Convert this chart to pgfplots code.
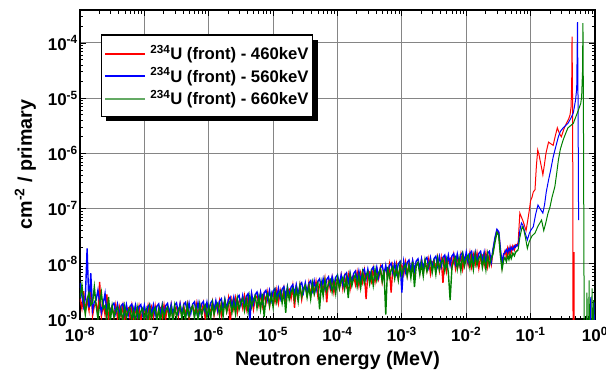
\documentclass[border=0pt]{standalone}
\usepackage{fontspec}
\setmainfont{Liberation Sans}
\usepackage{xcolor}
\usepackage{pgfplots}
\pgfplotsset{compat=1.18}
\usepackage{pgfplotstable}
\definecolor{dgreen}{RGB}{0,128,0}
\definecolor{lgreen}{RGB}{100,170,100}
\definecolor{pred}{RGB}{255,0,0}
\definecolor{pblue}{RGB}{0,0,255}
\newcommand{\legline}[1]{\textcolor{#1}{\rule[0.3em]{40pt}{1.6pt}}\hspace{5pt}}

\pgfplotstableread{
x r b g
1.00e-8 2.36e-9 4.5e-9 2.4e-9
1.07e-8 1.56e-9 2.63e-9 4.1e-9
1.14e-8 3.2e-9 1.67e-9 2.13e-9
1.21e-8 1.39e-9 2.37e-9 1.22e-9
1.29e-8 2.2e-9 1.9e-8 2.25e-9
1.38e-8 1.44e-9 1.61e-9 3.0e-9
1.47e-8 4.0e-9 6.8e-9 1.79e-9
1.57e-8 1.16e-9 1.45e-9 1.98e-9
1.67e-8 1.76e-9 2.05e-9 3.8e-9
1.78e-8 1.86e-9 2.21e-9 1.77e-9
1.90e-8 1.24e-9 3.3e-9 1.02e-9
2.02e-8 4.7e-9 2.05e-9 1.9e-9
2.15e-8 1.13e-9 1.32e-9 3.0e-9
2.29e-8 1.81e-9 1.89e-9 1.55e-9
2.45e-8 1.2e-9 2.9e-9 1.75e-9
2.61e-8 2.8e-9 1.32e-9 1.04e-9
2.78e-8 0.99e-9 1.92e-9 2.5e-9
2.96e-8 1.54e-9 1.23e-9 0.92e-9
3.16e-8 1.63e-9 1.77e-9 1.73e-9
3.37e-8 1.1e-9 1.93e-9 1.08e-9
3.59e-8 1.78e-9 1.26e-9 1.44e-9
3.83e-8 1.03e-9 1.85e-9 1.64e-9
4.08e-8 1.66e-9 1.2e-9 0.98e-9
4.35e-8 1.12e-9 1.74e-9 1.52e-9
4.64e-8 1.73e-9 1.89e-9 0.89e-9
4.95e-8 0.95e-9 1.24e-9 1.69e-9
5.27e-8 1.47e-9 1.81e-9 1.05e-9
5.62e-8 1.58e-9 1.18e-9 1.41e-9
5.99e-8 1.06e-9 1.7e-9 1.6e-9
6.38e-8 1.73e-9 1.86e-9 0.96e-9
6.81e-8 0.99e-9 1.21e-9 1.48e-9
7.26e-8 1.61e-9 1.78e-9 0.87e-9
7.74e-8 1.07e-9 1.15e-9 1.64e-9
8.25e-8 1.68e-9 1.68e-9 1.02e-9
8.80e-8 0.91e-9 1.82e-9 1.37e-9
9.38e-8 1.43e-9 1.2e-9 1.56e-9
1.00e-7 1.53e-9 1.76e-9 0.94e-9
1.07e-7 1.05e-9 1.15e-9 1.47e-9
1.14e-7 1.70e-9 1.68e-9 0.86e-9
1.21e-7 0.99e-9 1.85e-9 1.65e-9
1.29e-7 1.61e-9 1.21e-9 1.03e-9
1.38e-7 1.09e-9 1.80e-9 1.40e-9
1.47e-7 1.70e-9 1.17e-9 1.60e-9
1.57e-7 0.94e-9 1.72e-9 0.96e-9
1.67e-7 1.47e-9 1.88e-9 1.50e-9
1.78e-7 1.59e-9 1.24e-9 0.89e-9
1.90e-7 1.09e-9 1.84e-9 1.70e-9
2.02e-7 1.77e-9 1.20e-9 1.06e-9
2.15e-7 1.03e-9 1.75e-9 1.44e-9
2.29e-7 1.67e-9 1.92e-9 1.64e-9
2.45e-7 1.13e-9 1.27e-9 0.99e-9
2.61e-7 1.77e-9 1.86e-9 1.55e-9
2.78e-7 0.97e-9 1.22e-9 0.92e-9
2.96e-7 1.53e-9 1.78e-9 1.74e-9
3.16e-7 1.65e-9 1.96e-9 1.09e-9
3.37e-7 1.13e-9 1.30e-9 1.48e-9
3.59e-7 1.83e-9 1.90e-9 1.69e-9
3.83e-7 1.07e-9 1.25e-9 1.02e-9
4.08e-7 1.73e-9 1.82e-9 1.59e-9
4.35e-7 1.17e-9 2.00e-9 0.94e-9
4.64e-7 1.83e-9 1.32e-9 1.79e-9
4.95e-7 1.01e-9 1.94e-9 1.12e-9
5.27e-7 1.58e-9 1.27e-9 1.51e-9
5.62e-7 1.71e-9 1.86e-9 1.74e-9
5.99e-7 1.17e-9 2.04e-9 1.05e-9
6.38e-7 1.90e-9 1.34e-9 1.64e-9
6.81e-7 1.10e-9 1.98e-9 0.97e-9
7.26e-7 1.79e-9 1.29e-9 1.84e-9
7.74e-7 1.21e-9 1.89e-9 1.15e-9
8.25e-7 1.89e-9 2.07e-9 1.55e-9
8.80e-7 1.04e-9 1.37e-9 1.79e-9
9.38e-7 1.64e-9 2.01e-9 1.07e-9
1.00e-6 1.77e-9 1.32e-9 1.68e-9
1.07e-6 1.22e-9 1.95e-9 1.00e-9
1.14e-6 2.00e-9 2.16e-9 1.93e-9
1.21e-6 1.18e-9 1.44e-9 1.22e-9
1.29e-6 1.94e-9 2.15e-9 1.67e-9
1.38e-6 1.32e-9 1.42e-9 1.93e-9
1.47e-6 2.09e-9 2.09e-9 1.17e-9
1.57e-6 1.16e-9 2.32e-9 1.86e-9
1.67e-6 1.85e-9 1.55e-9 1.11e-9
1.78e-6 2.01e-9 2.30e-9 2.13e-9
1.90e-6 1.38e-9 1.52e-9 1.35e-9
2.02e-6 2.28e-9 2.24e-9 1.84e-9
2.15e-6 0.80e-9 2.49e-9 2.14e-9
2.29e-6 2.20e-9 1.66e-9 1.30e-9
2.45e-6 1.50e-9 2.47e-9 2.05e-9
2.61e-6 2.37e-9 1.63e-9 1.22e-9
2.78e-6 1.32e-9 2.41e-9 2.35e-9
2.96e-6 2.10e-9 2.67e-9 1.49e-9
3.16e-6 2.29e-9 1.78e-9 2.04e-9
3.37e-6 1.57e-9 2.65e-9 2.35e-9
3.59e-6 2.59e-9 1.75e-9 1.43e-9
3.83e-6 1.52e-9 2.59e-9 2.26e-9
4.08e-6 2.50e-9 2.87e-9 1.35e-9
4.35e-6 1.71e-9 0.90e-9 2.60e-9
4.64e-6 2.70e-9 2.85e-9 1.65e-9
4.95e-6 1.50e-9 1.88e-9 2.25e-9
5.27e-6 2.39e-9 2.78e-9 2.60e-9
5.62e-6 2.60e-9 3.08e-9 1.58e-9
5.99e-6 1.78e-9 2.05e-9 2.50e-9
6.38e-6 2.94e-9 3.05e-9 1.49e-9
6.81e-6 1.73e-9 2.02e-9 2.88e-9
7.26e-6 2.84e-9 2.98e-9 1.10e-9
7.74e-6 1.94e-9 3.30e-9 2.48e-9
8.25e-6 3.07e-9 2.21e-9 2.88e-9
8.80e-6 1.70e-9 3.28e-9 1.75e-9
9.38e-6 2.72e-9 2.17e-9 2.77e-9
1.00e-5 2.95e-9 3.20e-9 1.65e-9
1.07e-5 2.03e-9 3.56e-9 3.18e-9
1.14e-5 3.35e-9 2.37e-9 2.01e-9
1.21e-5 1.97e-9 3.55e-9 2.76e-9
1.29e-5 3.26e-9 2.35e-9 3.20e-9
1.38e-5 2.22e-9 3.47e-9 1.95e-9
1.47e-5 3.53e-9 3.86e-9 3.09e-9
1.57e-5 1.96e-9 2.58e-9 1.30e-9
1.67e-5 3.14e-9 3.85e-9 3.56e-9
1.78e-5 3.42e-9 2.55e-9 2.26e-9
1.90e-5 2.36e-9 3.78e-9 3.10e-9
2.02e-5 3.89e-9 4.19e-9 3.59e-9
2.15e-5 1.60e-9 2.80e-9 2.19e-9
2.29e-5 3.77e-9 4.17e-9 3.46e-9
2.45e-5 2.57e-9 2.76e-9 2.07e-9
2.61e-5 4.10e-9 4.10e-9 4.00e-9
2.78e-5 2.28e-9 4.55e-9 2.54e-9
2.96e-5 3.63e-9 3.04e-9 3.47e-9
3.16e-5 3.95e-9 4.52e-9 4.02e-9
3.37e-5 2.73e-9 3.00e-9 2.46e-9
3.59e-5 4.51e-9 4.44e-9 3.89e-9
3.83e-5 2.64e-9 4.93e-9 2.32e-9
4.08e-5 4.37e-9 3.29e-9 4.48e-9
4.35e-5 2.98e-9 4.91e-9 2.84e-9
4.64e-5 4.74e-9 3.26e-9 3.89e-9
4.95e-5 2.63e-9 4.81e-9 4.51e-9
5.27e-5 4.20e-9 5.35e-9 1.50e-9
5.62e-5 4.59e-9 3.58e-9 4.36e-9
5.99e-5 3.16e-9 5.33e-9 2.61e-9
6.38e-5 5.23e-9 3.54e-9 5.03e-9
6.81e-5 2.00e-9 5.22e-9 3.18e-9
7.26e-5 5.06e-9 5.81e-9 4.36e-9
7.74e-5 3.46e-9 3.88e-9 5.06e-9
8.25e-5 5.49e-9 5.79e-9 3.09e-9
8.80e-5 3.05e-9 3.84e-9 4.88e-9
9.38e-5 4.87e-9 5.67e-9 2.92e-9
1.00e-4 5.31e-9 6.30e-9 5.63e-9
1.07e-4 3.66e-9 4.20e-9 3.56e-9
1.14e-4 6.05e-9 6.28e-9 4.88e-9
1.21e-4 3.54e-9 4.15e-9 5.66e-9
1.29e-4 5.86e-9 6.14e-9 3.46e-9
1.38e-4 4.00e-9 6.83e-9 5.47e-9
1.47e-4 6.35e-9 4.56e-9 2.40e-9
1.57e-4 3.53e-9 6.80e-9 6.30e-9
1.67e-4 5.63e-9 4.51e-9 3.99e-9
1.78e-4 6.14e-9 6.66e-9 5.46e-9
1.90e-4 4.22e-9 7.39e-9 6.34e-9
2.02e-4 6.98e-9 4.94e-9 3.87e-9
2.15e-4 4.10e-9 7.37e-9 6.12e-9
2.29e-4 6.76e-9 4.88e-9 3.66e-9
2.45e-4 4.62e-9 7.21e-9 7.04e-9
2.61e-4 7.33e-9 8.02e-9 4.47e-9
2.78e-4 2.30e-9 5.35e-9 6.11e-9
2.96e-4 6.50e-9 7.98e-9 7.09e-9
3.16e-4 7.09e-9 5.29e-9 4.33e-9
3.37e-4 4.88e-9 7.81e-9 6.83e-9
3.59e-4 8.06e-9 8.68e-9 4.09e-9
3.83e-4 4.73e-9 5.80e-9 7.88e-9
4.08e-4 7.81e-9 8.64e-9 4.99e-9
4.35e-4 5.34e-9 5.73e-9 6.84e-9
4.64e-4 8.46e-9 8.46e-9 7.93e-9
4.95e-4 4.70e-9 9.41e-9 4.84e-9
5.27e-4 7.51e-9 6.28e-9 7.65e-9
5.62e-4 8.19e-9 9.37e-9 1.20e-9
5.99e-4 5.64e-9 6.20e-9 8.81e-9
6.38e-4 9.32e-9 9.18e-9 5.59e-9
6.81e-4 3.00e-9 10.2e-9 7.64e-9
7.26e-4 9.03e-9 6.81e-9 8.88e-9
7.74e-4 6.17e-9 10.2e-9 5.41e-9
8.25e-4 9.78e-9 6.72e-9 8.56e-9
8.80e-4 5.44e-9 9.95e-9 5.13e-9
9.38e-4 8.68e-9 11.0e-9 9.86e-9
1.00e-3 9.44e-9 3.00e-9 6.24e-9
1.07e-3 6.47e-9 10.9e-9 8.49e-9
1.14e-3 10.6e-9 7.19e-9 9.80e-9
1.21e-3 6.20e-9 10.6e-9 5.95e-9
1.29e-3 10.2e-9 11.7e-9 9.35e-9
1.38e-3 6.92e-9 7.76e-9 5.57e-9
1.47e-3 10.9e-9 11.5e-9 10.7e-9
1.57e-3 6.03e-9 7.59e-9 3.80e-9
1.67e-3 9.59e-9 11.2e-9 9.16e-9
1.78e-3 10.4e-9 12.3e-9 10.6e-9
1.90e-3 7.13e-9 8.20e-9 6.42e-9
2.02e-3 11.7e-9 12.2e-9 10.1e-9
2.15e-3 6.83e-9 8.01e-9 6.01e-9
2.29e-3 11.2e-9 11.8e-9 11.5e-9
2.45e-3 7.63e-9 13.0e-9 7.25e-9
2.61e-3 12.0e-9 8.65e-9 9.87e-9
2.78e-3 6.65e-9 12.8e-9 11.4e-9
2.96e-3 10.6e-9 8.45e-9 6.91e-9
3.16e-3 11.5e-9 12.4e-9 10.9e-9
3.37e-3 7.85e-9 13.7e-9 6.47e-9
3.59e-3 12.9e-9 9.13e-9 12.4e-9
3.83e-3 7.50e-9 13.5e-9 7.80e-9
4.08e-3 12.3e-9 8.89e-9 10.6e-9
4.35e-3 4.50e-9 13.1e-9 12.2e-9
4.64e-3 13.2e-9 14.4e-9 7.42e-9
4.95e-3 7.35e-9 9.66e-9 11.8e-9
5.27e-3 11.7e-9 14.3e-9 7.00e-9
5.62e-3 12.6e-9 9.42e-9 2.20e-9
5.99e-3 8.64e-9 13.8e-9 8.42e-9
6.38e-3 14.2e-9 15.3e-9 11.4e-9
6.81e-3 8.25e-9 10.1e-9 13.2e-9
7.26e-3 13.5e-9 15.0e-9 7.99e-9
7.74e-3 9.27e-9 9.94e-9 12.7e-9
8.25e-3 14.6e-9 14.6e-9 7.52e-9
8.80e-3 8.05e-9 16.1e-9 14.4e-9
9.38e-3 12.8e-9 10.7e-9 9.05e-9
1.00e-2 14.2e-9 16.2e-9 12.6e-9
1.07e-2 9.6e-9 10.6e-9 14.4e-9
1.14e-2 15.6e-9 15.4e-9 8.6e-9
1.21e-2 9.0e-9 16.8e-9 13.4e-9
1.29e-2 14.6e-9 11.0e-9 7.9e-9
1.38e-2 9.8e-9 16.2e-9 15.0e-9
1.47e-2 15.4e-9 10.6e-9 9.4e-9
1.57e-2 8.4e-9 15.4e-9 12.6e-9
1.67e-2 13.2e-9 16.8e-9 14.4e-9
1.78e-2 14.2e-9 11.0e-9 8.6e-9
1.90e-2 9.6e-9 16.2e-9 13.4e-9
2.02e-2 15.6e-9 10.6e-9 7.9e-9
2.15e-2 9.0e-9 15.4e-9 15.0e-9
2.29e-2 14.6e-9 16.8e-9 9.4e-9
2.45e-2 9.8e-9 11.0e-9 12.6e-9
2.6e-2 1.7e-8 1.8e-8 1.5e-8
2.8e-2 2.8e-8 3.0e-8 2.5e-8
3.0e-2 4.0e-8 4.2e-8 3.7e-8
3.2e-2 3.6e-8 3.8e-8 3.3e-8
3.4e-2 1.6e-8 1.8e-8 1.4e-8
3.6e-2 0.9e-8 1.0e-8 0.8e-8
3.8e-2 1.4e-8 1.5e-8 1.15e-8
4.0e-2 1.7e-8 1.6e-8 1.3e-8
4.2e-2 1.4e-8 1.8e-8 1.1e-8
4.4e-2 1.9e-8 1.6e-8 1.4e-8
4.6e-2 1.5e-8 1.9e-8 1.2e-8
4.8e-2 2.0e-8 1.7e-8 1.5e-8
5.0e-2 1.6e-8 2.0e-8 1.25e-8
5.3e-2 2.1e-8 1.8e-8 1.55e-8
5.6e-2 1.8e-8 2.1e-8 1.4e-8
5.8e-2 2.2e-8 2.0e-8 1.6e-8
6.1e-2 2.1e-8 2.2e-8 1.7e-8
6.4e-2 2.4e-8 2.1e-8 1.8e-8
}\lowdata

\pgfplotstableread{
x y
6.4e-2 2.4e-8
6.8e-2 8.3e-8
7.2e-2 7.0e-8
7.6e-2 6.0e-8
8.0e-2 5.0e-8
8.5e-2 4.0e-8
9.0e-2 6.0e-8
9.5e-2 9.0e-8
0.100 1.4e-7
0.105 1.6e-7
0.110 2.0e-7
0.117 2.2e-7
0.123 6.0e-7
0.129 1.15e-6
0.135 9.5e-7
0.140 7.6e-7
0.148 5.5e-7
0.155 4.1e-7
0.163 6.0e-7
0.173 1.0e-6
0.182 1.3e-6
0.190 1.6e-6
0.205 1.5e-6
0.224 1.4e-6
0.240 2.0e-6
0.260 2.9e-6
0.280 2.3e-6
0.300 2.0e-6
0.330 2.8e-6
0.360 3.5e-6
0.390 4.2e-6
0.410 5.0e-6
0.425 7.0e-6
0.435 2.0e-5
0.440 1.3e-4
0.450 5.0e-6
0.456 5e-10
0.466 5e-10
0.468 1.6e-8
0.472 1.6e-8
0.474 5e-10
}\redhi

\pgfplotstableread{
x y
6.4e-2 2.1e-8
6.8e-2 4.0e-8
7.2e-2 5.5e-8
7.6e-2 5.0e-8
8.0e-2 4.0e-8
8.5e-2 3.2e-8
8.9e-2 2.7e-8
9.5e-2 3.5e-8
0.100 4.0e-8
0.110 4.7e-8
0.120 8.0e-8
0.130 1.16e-7
0.140 1.0e-7
0.155 8.3e-8
0.165 1.2e-7
0.175 2.0e-7
0.190 3.3e-7
0.205 5.0e-7
0.224 8.6e-7
0.245 1.3e-6
0.270 2.0e-6
0.290 2.5e-6
0.320 2.9e-6
0.350 3.2e-6
0.380 3.5e-6
0.420 4.3e-6
0.460 5.4e-6
0.500 9.4e-6
0.520 1.5e-5
0.535 2.4e-4
0.545 1.0e-5
0.556 6.2e-8
0.557 nan
0.84 5e-10
0.86 2.5e-9
0.87 5e-10
0.96 5e-10
0.97 2.0e-9
0.98 5e-10
}\bluehi

\pgfplotstableread{
x y
6.4e-2 1.8e-8
6.8e-2 3.0e-8
7.4e-2 4.7e-8
7.8e-2 4.2e-8
8.3e-2 3.0e-8
8.9e-2 1.9e-8
9.5e-2 2.5e-8
0.105 3.2e-8
0.117 3.6e-8
0.130 4.8e-8
0.148 6.2e-8
0.160 4.0e-8
0.172 5.5e-8
0.185 8.0e-8
0.200 1.07e-7
0.215 1.6e-7
0.238 2.5e-7
0.255 4.5e-7
0.270 7.6e-7
0.290 1.2e-6
0.320 1.75e-6
0.350 2.3e-6
0.380 2.9e-6
0.420 3.2e-6
0.460 3.5e-6
0.500 4.5e-6
0.550 6.0e-6
0.600 8.0e-6
0.620 1.05e-5
0.640 3.0e-5
0.650 2.3e-4
0.660 1.0e-5
0.680 5e-10
0.740 5e-10
0.750 3.0e-9
0.760 5e-10
0.800 5e-10
0.810 5.0e-9
0.820 5e-10
0.890 5e-10
0.900 3.6e-9
0.910 5e-10
0.940 5e-10
0.950 2.2e-9
0.960 5e-10
}\greenhi

\begin{document}
\begin{tikzpicture}
\begin{axis}[
  name=ax,
  scale only axis, width=515pt, height=309pt,
  xmode=log, ymode=log,
  xmin=1e-8, xmax=1, ymin=1e-9, ymax=3.96e-4,
  unbounded coords=jump,
  axis line style={line width=1.2pt},
  grid=major, major grid style={color=black!48, line width=1pt},
  tick style={black, line width=0.8pt},
  major tick length=6pt, minor tick length=3.5pt,
  tick label style={font=\fontsize{17}{18}\selectfont\bfseries, inner sep=2pt},
  xticklabel={\pgfmathtruncatemacro{\e}{round(\tick/ln(10))}10\textsuperscript{\e}},
  yticklabel={\pgfmathtruncatemacro{\e}{round(\tick/ln(10))}10\textsuperscript{\e}},
  xticklabel style={yshift=-6pt},
  label style={font=\fontsize{19.7}{21}\selectfont\bfseries},
  xlabel={Neutron energy (MeV)},
  ylabel={cm\textsuperscript{-2} / primary},
  xlabel style={at={(axis description cs:0.5,-0.133)}, anchor=center},
  ylabel style={at={(axis description cs:-0.106,0.5)}, anchor=center},
  legend style={name=leg, at={(axis description cs:0.041,0.919)}, anchor=north west,
    draw=none, fill=white,
    font=\fontsize{16.7}{18}\selectfont\bfseries,
    inner xsep=2pt, inner ysep=8pt, row sep=2.5pt, column sep=0pt},
  legend cell align=left,
  legend image code/.code={},
]
\addplot[pred, line width=1.4pt] table[x=x, y=r] {\lowdata};
\addlegendentry{\legline{pred}\textsuperscript{234}U (front) - 460keV}
\addplot[pblue, line width=1.4pt] table[x=x, y=b] {\lowdata};
\addlegendentry{\legline{pblue}\textsuperscript{234}U (front) - 560keV}
\addplot[dgreen, line width=1.4pt] table[x=x, y=g] {\lowdata};
\addlegendentry{\legline{lgreen}\textsuperscript{234}U (front) - 660keV}
\addplot[pred, line width=1pt, forget plot] table[x=x, y=y] {\redhi};
\addplot[pblue, line width=1pt, forget plot] table[x=x, y=y] {\bluehi};
\addplot[dgreen, line width=1pt, forget plot] table[x=x, y=y] {\greenhi};
\end{axis}
\draw[line width=1.2pt] (leg.south west) rectangle (leg.north east);
\fill[black] ([xshift=5pt,yshift=-5pt]leg.south west) rectangle ([xshift=5.6pt,yshift=-0.6pt]leg.south east);
\fill[black] ([xshift=0.6pt,yshift=-5pt]leg.north east) rectangle ([xshift=5.6pt,yshift=-0.6pt]leg.south east);
\pgfresetboundingbox
\path[use as bounding box] ([xshift=-80pt,yshift=-64pt]ax.south west) rectangle ([xshift=11pt,yshift=10pt]ax.north east);
\end{tikzpicture}
\end{document}
